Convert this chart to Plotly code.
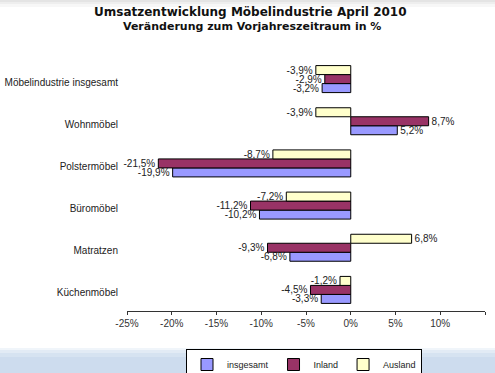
import plotly.graph_objects as go

categories = ["Möbelindustrie insgesamt", "Wohnmöbel", "Polstermöbel",
              "Büromöbel", "Matratzen", "Küchenmöbel"]
insgesamt = [-3.2, 5.2, -19.9, -10.2, -6.8, -3.3]
inland = [-2.9, 8.7, -21.5, -11.2, -9.3, -4.5]
ausland = [-3.9, -3.9, -8.7, -7.2, 6.8, -1.2]
x_ticks = [-25, -20, -15, -10, -5, 0, 5, 10, 15]
x_tick_labels = ["-25%", "-20%", "-15%", "-10%", "-5%", "0%", "5%", "10%", "15%"]

W, H = 495, 373
L, R, T, B = 127, 10, 58, 62
PW, PH = W - L - R, H - T - B

def fmt(v):
    return f"{v:.1f}%".replace(".", ",")

cats_rev = categories[::-1]

fig = go.Figure()
series = [("insgesamt", insgesamt, "#9999FF"),
          ("Inland", inland, "#993366"),
          ("Ausland", ausland, "#FFFFCC")]
for name, vals, col in series:
    fig.add_trace(go.Bar(
        name=name, orientation="h",
        y=categories[::-1], x=vals[::-1],
        text=[fmt(v) for v in vals[::-1]],
        textposition="outside", constraintext="none", cliponaxis=False,
        textfont=dict(size=10, color="#222", family="Liberation Sans"),
        marker=dict(color=col, line=dict(color="black", width=1)),
    ))

def py_to_paper(py):
    return (H - B - py) / PH

def px_to_paper(px):
    return (px - L) / PW

shapes = []
band = [(348, 350, "#f0f5fa"), (350, 353, "#e2ebf5"), (353, 357, "#d6e3f1"), (357, 373, "#cddcee")]
for y0, y1, c in band:
    shapes.append(dict(type="rect", xref="paper", yref="paper", layer="below",
                       x0=px_to_paper(0), x1=px_to_paper(W), y0=py_to_paper(y1), y1=py_to_paper(y0),
                       fillcolor=c, line=dict(width=0)))
top = [(0, 2, "#e4e4e4"), (2, 4, "#eeeeee"), (4, 7, "#f7f7f7")]
for y0, y1, c in top:
    shapes.append(dict(type="rect", xref="paper", yref="paper", layer="below",
                       x0=px_to_paper(0), x1=px_to_paper(W), y0=py_to_paper(y1), y1=py_to_paper(y0),
                       fillcolor=c, line=dict(width=0)))

fig.update_layout(
    width=W, height=H,
    margin=dict(l=L, r=R, t=T, b=B, autoexpand=False),
    paper_bgcolor="white", plot_bgcolor="rgba(0,0,0,0)",
    barmode="group", bargap=0.36, bargroupgap=0,
    font=dict(family="Liberation Sans", color="#222"),
    showlegend=True,
    legend=dict(orientation="h", xref="container", yref="container",
                x=304 / W, xanchor="center",
                y=1 - 349 / H, yanchor="top",
                bgcolor="white", bordercolor="black", borderwidth=1,
                font=dict(size=9, color="#222"), itemwidth=30,
                tracegroupgap=0),
    xaxis=dict(range=[-25, 15], tickvals=x_ticks, ticktext=x_tick_labels,
               showgrid=False, zeroline=False, showline=True, linecolor="#333",
               linewidth=1, ticks="outside", ticklen=3, tickcolor="#333",
               tickfont=dict(size=10, color="#333"), fixedrange=True, automargin=False),
    yaxis=dict(categoryorder="array", categoryarray=cats_rev,
               showgrid=False, zeroline=False, showline=False, ticks="",
               tickfont=dict(size=10, color="#222"), ticklabelstandoff=8,
               ticklabelshift=3, range=[-0.5, 5.5], automargin=False),
    yaxis2=dict(overlaying="y", anchor="free", position=px_to_paper(350),
                range=[-0.5, 5.5], tickvals=[-0.5, 0.5, 1.5, 2.5, 3.5, 4.5, 5.5],
                showticklabels=False, ticks="outside", ticklen=3, tickcolor="#333",
                showline=True, linecolor="#333", linewidth=1, showgrid=False,
                zeroline=False, side="left", automargin=False),
    shapes=shapes,
    annotations=[
        dict(text="<b>Umsatzentwicklung Möbelindustrie April 2010</b>", xref="paper", yref="paper",
             x=px_to_paper(250), y=py_to_paper(12), xanchor="center", yanchor="middle",
             showarrow=False, font=dict(size=12, color="#111", family="DejaVu Sans")),
        dict(text="<b>Veränderung zum Vorjahreszeitraum in %</b>", xref="paper", yref="paper",
             x=px_to_paper(252), y=py_to_paper(26), xanchor="center", yanchor="middle",
             showarrow=False, font=dict(size=11, color="#111", family="DejaVu Sans")),
    ],
)

fig.write_html("out.html", config={"displayModeBar": False},
               post_script="document.body.style.margin='0px';")
